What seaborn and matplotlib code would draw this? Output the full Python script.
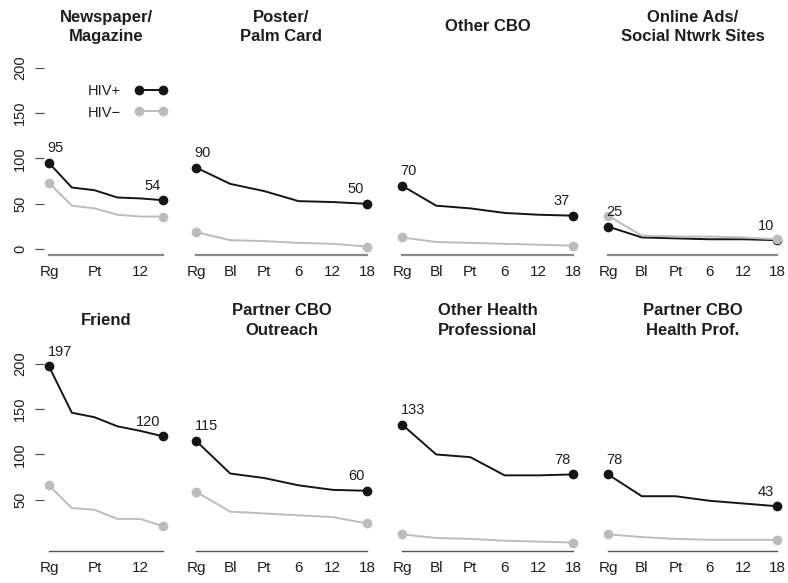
import numpy as np
import pandas as pd
import matplotlib
matplotlib.use("Agg")
import matplotlib.pyplot as plt
from matplotlib.lines import Line2D
import seaborn as sns

sns.set_style("white")
plt.rcParams["font.family"] = ["Liberation Sans", "DejaVu Sans"]

# Visit timepoints
timepoints = ["Rg", "Bl", "Pt", "6", "12", "18"]

# Referral sources (panel titles)
sources = [
    "Newspaper/\nMagazine", "Poster/\nPalm Card", "Other CBO",
    "Online Ads/\nSocial Ntwrk Sites",
    "Friend", "Partner CBO\nOutreach", "Other Health\nProfessional",
    "Partner CBO\nHealth Prof.",
]

# Participant counts by source, HIV-positive
pos_newspaper = [95, 68, 65, 57, 56, 54]
pos_poster = [90, 72, 64, 53, 52, 50]
pos_other_cbo = [70, 48, 45, 40, 38, 37]
pos_online = [25, 13, 12, 11, 11, 10]
pos_friend = [197, 146, 141, 131, 126, 120]
pos_partner_outreach = [115, 79, 74, 66, 61, 60]
pos_other_health = [133, 100, 97, 77, 77, 78]
pos_partner_health = [78, 54, 54, 49, 46, 43]

# Participant counts by source, HIV-negative
neg_newspaper = [73, 48, 45, 38, 36, 36]
neg_poster = [19, 10, 9, 7, 6, 3]
neg_other_cbo = [13, 8, 7, 6, 5, 4]
neg_online = [37, 15, 14, 14, 13, 11]
neg_friend = [66, 41, 39, 29, 29, 21]
neg_partner_outreach = [59, 37, 35, 33, 31, 24]
neg_other_health = [12, 8, 7, 5, 4, 3]
neg_partner_health = [12, 9, 7, 6, 6, 6]

pos_series = [pos_newspaper, pos_poster, pos_other_cbo, pos_online,
              pos_friend, pos_partner_outreach, pos_other_health, pos_partner_health]
neg_series = [neg_newspaper, neg_poster, neg_other_cbo, neg_online,
              neg_friend, neg_partner_outreach, neg_other_health, neg_partner_health]

status_labels = ["HIV+", "HIV\u2212"]
palette = {"HIV+": "#151515", "HIV\u2212": "#bcbcbc"}

rows = []
for src, pos, neg in zip(sources, pos_series, neg_series):
    for i, tp in enumerate(timepoints):
        rows.append({"source": src, "pos": i, "visit": tp, "status": "HIV+", "count": pos[i]})
        rows.append({"source": src, "pos": i, "visit": tp, "status": "HIV\u2212", "count": neg[i]})
df = pd.DataFrame(rows)

W, H = 788, 583
fig = plt.figure(figsize=(W / 100, H / 100), dpi=100)

# panel extents in pixels: (left, right) per column, (top, bottom) per row
col_px = [(44, 168), (188.5, 374.5), (394.5, 580.5), (600.6, 784.4)]
row_px = [(58.6, 254.7), (354.6, 550.7)]
ylim = (-6, 210)
xlim = (-0.22, 5.22)

# baseline styling per row
base_color = ["#8a8a8a", "#555555"]
base_width = [1.6, 1.0]
text_col = "#1e1e1e"

for k, src in enumerate(sources):
    r, c = divmod(k, 4)
    l, rr = col_px[c]
    t, b = row_px[r]
    ax = fig.add_axes([l / W, 1 - b / H, (rr - l) / W, (b - t) / H])
    sub = df[df["source"] == src]
    sns.lineplot(data=sub, x="pos", y="count", hue="status", hue_order=status_labels,
                 palette=palette, marker="o", markevery=[0, 5], markersize=7,
                 markeredgewidth=0, linewidth=1.4, legend=False, ax=ax)
    ax.set_xlim(*xlim)
    ax.set_ylim(*ylim)
    ax.set_xlabel("")
    ax.set_ylabel("")
    for s in ["top", "right", "left"]:
        ax.spines[s].set_visible(False)
    ax.spines["bottom"].set_bounds(0, 5)
    ax.spines["bottom"].set_color(base_color[r])
    ax.spines["bottom"].set_linewidth(base_width[r])

    if c == 0:
        ax.set_xticks([0, 2, 4], [timepoints[0], timepoints[2], timepoints[4]])
        yt = [0, 50, 100, 150, 200] if r == 0 else [50, 100, 150, 200]
        ax.set_yticks(yt, [str(v) for v in yt])
        ax.tick_params(axis="y", left=True, direction="out", length=6.5, width=0.9,
                       color="#555555", pad=5.5, labelsize=10.5, labelcolor=text_col,
                       labelrotation=90)
        for lab in ax.get_yticklabels():
            lab.set_va("center")
    else:
        ax.set_xticks(range(len(timepoints)), timepoints)
        ax.set_yticks([])
    ax.tick_params(axis="x", bottom=False, length=0, pad=7.5, labelsize=11, labelcolor=text_col)

    pos = pos_series[k]
    ax.annotate(str(pos[0]), xy=(0, pos[0]), xytext=(-1, 10.5), textcoords="offset points",
                ha="left", va="center", fontsize=10.5, color=text_col)
    ax.annotate(str(pos[-1]), xy=(5, pos[-1]), xytext=(-2, 10.5), textcoords="offset points",
                ha="right", va="center", fontsize=10.5, color=text_col)

    ax.set_title(src, fontsize=12, fontweight="bold", color=text_col, pad=0,
                 y=1.163 if r == 0 else 1.174, va="center", linespacing=1.35)

    if k == 0:
        handles = [Line2D([0], [0], color=palette[s], marker="o", markersize=7,
                          markeredgewidth=0, linewidth=1.4) for s in status_labels]
        ax.legend(handles, status_labels, numpoints=2, markerfirst=False, frameon=False,
                  handlelength=2.25, handletextpad=0.92, labelspacing=0.5,
                  fontsize=10.5, labelcolor=text_col, loc="center right",
                  bbox_to_anchor=(1.039, 0.779), borderaxespad=0)

fig.savefig("out.png", dpi=100)
